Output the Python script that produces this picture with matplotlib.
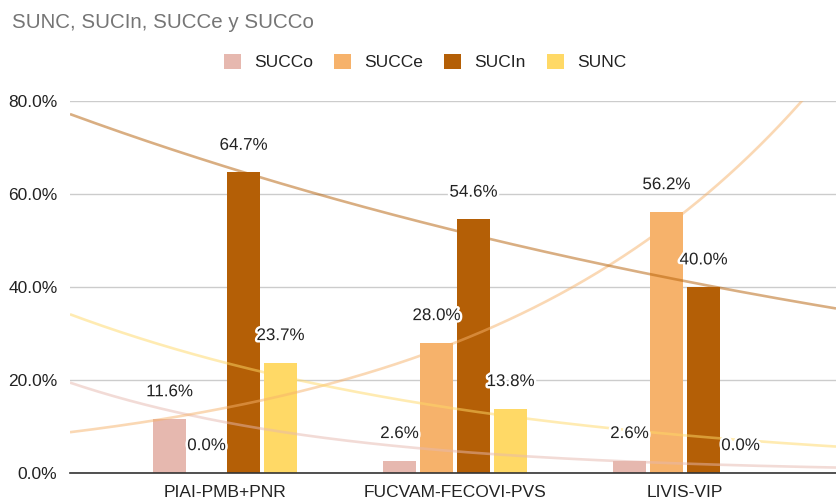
import matplotlib
matplotlib.use('Agg')
import matplotlib.pyplot as plt
import matplotlib.patheffects as pe
from matplotlib.patches import Patch
import numpy as np

plt.rcParams['font.family'] = ['Liberation Sans', 'DejaVu Sans']

categorias = ['PIAI-PMB+PNR', 'FUCVAM-FECOVI-PVS', 'LIVIS-VIP']
series = ['SUCCo', 'SUCCe', 'SUCIn', 'SUNC']
succo = [11.6, 2.6, 2.6]
succe = [0.0, 28.0, 56.2]
sucin = [64.7, 54.6, 40.0]
sunc = [23.7, 13.8, 0.0]
colores = ['#e6b8af', '#f6b26b', '#b45f06', '#ffd966']
yticks = [0, 20, 40, 60, 80]

valores = [succo, succe, sucin, sunc]

fig = plt.figure(figsize=(8.36, 5.0), dpi=100)
ax = fig.add_axes([70 / 836, 1 - 472.7 / 500, 1 - 70 / 836, (472.7 - 101.3) / 500])

x = np.arange(len(categorias))
paso = 37 / 230
ancho = 33 / 230
xmin, xmax = -155 / 230, 611 / 230

halo = [pe.withStroke(linewidth=3.5, foreground='white')]

for i, (nombre, vals, col) in enumerate(zip(series, valores, colores)):
    pos = x + (i - 1.5) * paso
    ax.bar(pos, vals, width=ancho, color=col, zorder=2)
    for xp, v in zip(pos, vals):
        ax.annotate(f'{v:.1f}%', (xp, v), xytext=(0, 19.5), textcoords='offset points',
                    ha='center', va='center', fontsize=12.2, color='#222222',
                    path_effects=halo, zorder=5)

# tendencias exponenciales (ajuste de log(y) ponderado por y, sin ceros)
xs = np.linspace(xmin, xmax, 300)
for vals, col in zip(valores, colores):
    v = np.array(vals)
    m = v > 0
    b, a = np.polyfit(x[m], np.log(v[m]), 1, w=np.sqrt(v[m]))
    ax.plot(xs, np.exp(a + b * xs), color=col, alpha=0.5, lw=1.9, zorder=3,
            solid_capstyle='butt')

ax.set_xlim(xmin, xmax)
ax.set_ylim(0, 80)
ax.set_yticks(yticks)
ax.set_yticklabels([f'{t:.1f}%' for t in yticks])
ax.set_xticks(x)
ax.set_xticklabels(categorias)
ax.tick_params(axis='both', length=0, labelsize=12.5, colors='#222222')
ax.tick_params(axis='y', pad=9)
ax.tick_params(axis='x', pad=9)
ax.grid(axis='y', color='#cccccc', lw=1, zorder=0)
ax.set_axisbelow(True)
for s in ['left', 'right', 'top']:
    ax.spines[s].set_visible(False)
ax.spines['bottom'].set_color('#333333')
ax.spines['bottom'].set_linewidth(1.2)
ax.spines['bottom'].set_zorder(4)

fig.text(12 / 836, 1 - 22 / 500, 'SUNC, SUCIn, SUCCe y SUCCo', fontsize=14.8,
         color='#757575', va='center', ha='left')

handles = [Patch(facecolor=c, edgecolor='none') for c in colores]
fig.legend(handles, series, loc='center', bbox_to_anchor=(425 / 836, 1 - 62 / 500),
           ncol=4, frameon=False, fontsize=12.5, handlelength=1.0, handleheight=1.0,
           handletextpad=0.75, columnspacing=1.2, labelcolor='#222222')

fig.savefig('out.png', dpi=100)
